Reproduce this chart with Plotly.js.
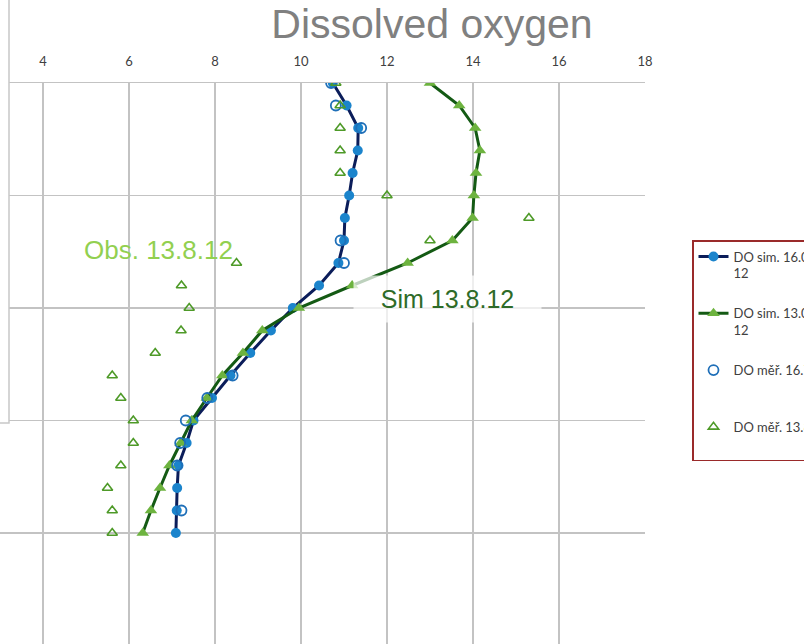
<!DOCTYPE html>
<html>
<head>
<meta charset="utf-8">
<script src="https://cdn.plot.ly/plotly-3.0.1.min.js"></script>
<style>html,body{margin:0;padding:0;background:#fff;}#chart{width:804px;height:644px;}</style>
</head>
<body>
<div id="chart"></div>
<script>
// Depth (m) for simulated profiles
const depthSim = [0,1,2,3,4,5,6,7,8,9,10,11,12,13,14,15,16,17,18,19,20];
// DO sim. 16.07.2012
const doSim1607 = [10.74,11.06,11.33,11.32,11.20,11.12,11.02,11.00,10.87,10.42,9.81,9.30,8.82,8.36,7.93,7.50,7.34,7.15,7.12,7.11,7.09];
// DO sim. 13.08.2012
const doSim1308 = [13.00,13.68,14.05,14.16,14.07,14.02,13.99,13.52,12.48,11.19,9.95,9.10,8.65,8.17,7.81,7.46,7.20,6.94,6.72,6.51,6.32];
// DO měř. 16.7.2012 (observed)
const depthObs1607 = [0,1,2,7,8,13,14,15,16,17,19];
const doObs1607 = [10.70,10.81,11.40,10.92,11.00,8.41,7.82,7.32,7.19,7.12,7.22];
// DO měř. 13.8.2012 (observed)
const depthObs1308 = [0,1,2,3,4,5,6,7,8,9,10,11,12,13,14,15,16,17,18,19,20];
const doObs1308 = [10.81,10.91,10.91,10.91,10.91,12.00,15.30,13.00,8.50,7.22,7.40,7.21,6.61,5.61,5.81,6.10,6.10,5.81,5.50,5.61,5.61];
// Axis ticks
const xTicks = [4,6,8,10,12,14,16,18];
const legendNames = ["DO sim. 16.07.20<br>12","DO sim. 13.08.20<br>12","DO měř. 16.7.2012<br> ","DO měř. 13.8.2012<br> "];

const traces = [
  {x: doSim1607, y: depthSim, name: legendNames[0], legendgroup:'a', mode:'lines+markers',
   line:{color:'#0B1D5A', width:3}, marker:{symbol:'circle', size:10, color:'#1B84CC', line:{width:0}}},
  {x: doSim1308, y: depthSim, name: legendNames[1], legendgroup:'b', mode:'lines+markers',
   line:{color:'#145A14', width:3}, marker:{symbol:'triangle-up', size:11, color:'#6DB33F', line:{width:0}}},
  {x: doObs1607, y: depthObs1607, name: legendNames[2], legendgroup:'c', mode:'markers',
   marker:{symbol:'circle-open', size:10, color:'#1F6FB8', line:{width:1.8}}},
  {x: doObs1308, y: depthObs1308, name: legendNames[3], legendgroup:'d', mode:'markers',
   marker:{symbol:'triangle-up-open', size:9, color:'#4E9A28', line:{width:1.6}}}
];

const plotW = 645, plotTop = 83, plotH = 561;
const layout = {
  width: 804, height: 644,
  margin: {l:0, r:804-plotW, t:plotTop, b:0, pad:0, autoexpand:false},
  paper_bgcolor:'#ffffff', plot_bgcolor:'#ffffff',
  title: {text:'Dissolved oxygen', font:{family:'Liberation Sans, Arial, sans-serif', size:41, color:'#808080'},
          xref:'paper', x:432/plotW, xanchor:'center', yref:'container', y:1-24/644, yanchor:'middle', automargin:false},
  xaxis: {side:'top', range:[3,18], tickvals:xTicks, ticktext:xTicks.map(String),
          showgrid:true, gridcolor:'#C3C3C3', gridwidth:1.5, zeroline:false,
          showline:true, linecolor:'#C3C3C3', linewidth:1.5, ticks:'', ticklabelstandoff:10,
          tickfont:{family:'Lato, sans-serif', size:13, color:'#404040'}},
  yaxis: {range:[(644-plotTop)/22.5, 0], dtick:5, tick0:0, showgrid:true, gridcolor:'#C3C3C3', gridwidth:1.5,
          zeroline:false, showline:false, showticklabels:false, ticks:''},
  showlegend:true,
  legend: {x:692/plotW, xanchor:'left', y:1-(240-plotTop)/plotH, yanchor:'top',
           bordercolor:'#9A2A2A', borderwidth:1.5, bgcolor:'rgba(255,255,255,0)',
           font:{family:'Lato, sans-serif', size:13, color:'#404040'}, valign:'top', tracegroupgap:20},
  shapes: [
    {type:'rect', xref:'paper', yref:'paper', x0:-0.02, x1:9/plotW, y0:1-(423-plotTop)/plotH, y1:1.3,
     fillcolor:'#ffffff', line:{color:'#C8C8C8', width:1.5}, layer:'above'}
  ],
  annotations: [
    {text:'Sim 13.8.12', xref:'paper', yref:'paper', x:447/plotW, y:1-(299-plotTop)/plotH, xanchor:'center', yanchor:'middle',
     showarrow:false, width:185, height:44, bgcolor:'rgba(255,255,255,0.72)',
     font:{family:'Liberation Sans, Arial, sans-serif', size:25, color:'#2E6B28'}},
    {text:'Obs. 13.8.12', xref:'paper', yref:'paper', x:158/plotW, y:1-(250-plotTop)/plotH, xanchor:'center', yanchor:'middle',
     showarrow:false, font:{family:'Liberation Sans, Arial, sans-serif', size:26, color:'#92D050'}}
  ]
};
Plotly.newPlot('chart', traces, layout, {displayModeBar:false, staticPlot:true});
</script>
</body>
</html>
